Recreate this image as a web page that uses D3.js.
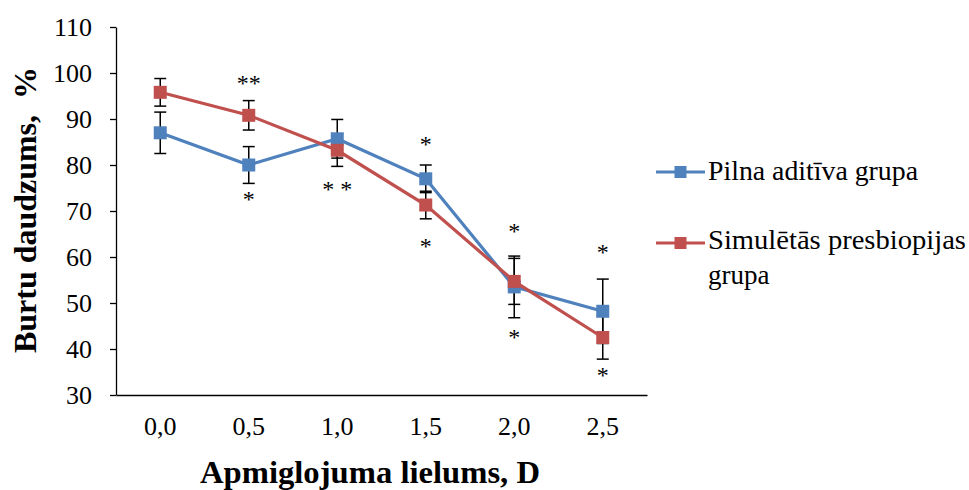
<!DOCTYPE html>
<html>
<head>
<script src="https://d3js.org/d3.v7.min.js"></script>
<style>
  body { margin: 0; background: #fff; }
  svg text { font-family: "Times New Roman", "Liberation Serif", "DejaVu Serif", serif; fill: #000; }
  .axis path, .axis line { stroke: #000; stroke-width: 1.3px; }
  .axis .tick text { font-size: 26px; }
  .title { font-size: 32px; font-weight: bold; }
  .star { font-size: 24px; }
  .legend text { font-size: 27px; }
</style>
</head>
<body>
<svg width="969" height="490"></svg>
<script>
var categories = ["0,0", "0,5", "1,0", "1,5", "2,0", "2,5"];
var blueValues = [87.0, 80.0, 85.7, 77.0, 53.5, 48.2];
var blueErrors = [4.5, 4.0, 4.2, 3.0, 6.7, 7.0];
var redValues = [95.8, 90.8, 83.2, 71.3, 54.7, 42.5];
var redErrors = [3.0, 3.2, 3.5, 3.0, 5.0, 4.7];
var yTicks = [30, 40, 50, 60, 70, 80, 90, 100, 110];
var seriesNames = ["Pilna aditīva grupa", "Simulētās presbiopijas grupa"];

// significance marks: category, value position, label
var starCats = ["0,5", "0,5", "1,0", "1,5", "1,5", "2,0", "2,0", "2,5", "2,5"];
var starVals = [98.3, 73.0, 75.2, 85.1, 62.8, 66.2, 43.0, 61.5, 34.8];
var starText = ["**", "*", "* *", "*", "*", "*", "*", "*", "*"];

var svg = d3.select("svg");
var mLeft = 116, mRight = 647, mTop = 27, mBottom = 395;

var x = d3.scaleBand().domain(categories).range([mLeft, mRight]);
var y = d3.scaleLinear().domain([30, 110]).range([mBottom, mTop]);

// axes
svg.append("g").attr("class", "axis")
    .attr("transform", "translate(" + mLeft + ",0)")
    .call(d3.axisLeft(y).tickValues(yTicks).tickSize(6).tickSizeOuter(0).tickPadding(18))
    .call(function(g) { g.attr("font-family", null).selectAll(".tick text").attr("dy", "0.34em"); });

svg.append("g").attr("class", "axis")
    .attr("transform", "translate(0," + mBottom + ")")
    .call(d3.axisBottom(x).tickSize(0).tickSizeOuter(0).tickPadding(22))
    .call(function(g) { g.attr("font-family", null).selectAll(".tick text").attr("dy", "0.71em"); });

svg.append("text").attr("class", "title")
    .attr("x", 370).attr("y", 483)
    .attr("text-anchor", "middle")
    .attr("textLength", 340).attr("lengthAdjust", "spacingAndGlyphs")
    .text("Apmiglojuma lielums, D");

svg.append("text").attr("class", "title")
    .attr("transform", "translate(36,210) rotate(-90)")
    .attr("text-anchor", "middle")
    .attr("textLength", 286).attr("lengthAdjust", "spacingAndGlyphs")
    .attr("xml:space", "preserve")
    .text("Burtu daudzums,  %");

var series = [
    { name: seriesNames[0], values: blueValues, errors: blueErrors, color: "#4f81bd" },
    { name: seriesNames[1], values: redValues, errors: redErrors, color: "#c0504d" }
];

var cx = function(i) { return x(categories[i]) + x.bandwidth() / 2; };

// error bars
series.forEach(function(s) {
    var g = svg.append("g");
    s.values.forEach(function(v, i) {
        var xx = cx(i), cap = 6;
        var y1 = y(v + s.errors[i]), y2 = y(v - s.errors[i]);
        g.append("line").attr("x1", xx).attr("x2", xx).attr("y1", y1).attr("y2", y2)
            .attr("stroke", "#000").attr("stroke-width", 1.5);
        [y1, y2].forEach(function(yy) {
            g.append("line").attr("x1", xx - cap).attr("x2", xx + cap).attr("y1", yy).attr("y2", yy)
                .attr("stroke", "#000").attr("stroke-width", 1.5);
        });
    });
});

// lines and markers
var line = d3.line().x(function(d, i) { return cx(i); }).y(function(d) { return y(d); });
series.forEach(function(s) {
    svg.append("path").datum(s.values)
        .attr("d", line)
        .attr("fill", "none")
        .attr("stroke", s.color)
        .attr("stroke-width", 3.2);
    svg.append("g").selectAll("rect").data(s.values).enter().append("rect")
        .attr("x", function(d, i) { return cx(i) - 6.5; })
        .attr("y", function(d) { return y(d) - 6.5; })
        .attr("width", 13).attr("height", 13)
        .attr("fill", s.color);
});

// stars
svg.append("g").selectAll("text").data(starText).enter().append("text")
    .attr("class", "star")
    .attr("x", function(d, i) { return x(starCats[i]) + x.bandwidth() / 2; })
    .attr("y", function(d, i) { return y(starVals[i]); })
    .attr("dy", "0.42em")
    .attr("text-anchor", "middle")
    .attr("xml:space", "preserve")
    .text(function(d) { return d; });

// legend
var legend = svg.append("g").attr("class", "legend");
var legendY = [172, 243];
series.forEach(function(s, i) {
    var ly = legendY[i];
    legend.append("line").attr("x1", 656).attr("x2", 705).attr("y1", ly).attr("y2", ly)
        .attr("stroke", s.color).attr("stroke-width", 3.2);
    legend.append("rect").attr("x", 674.5).attr("y", ly - 6).attr("width", 12).attr("height", 12)
        .attr("fill", s.color);
});
legend.append("text").attr("x", 708).attr("y", 180)
    .attr("textLength", 210).attr("lengthAdjust", "spacingAndGlyphs")
    .text(seriesNames[0]);
legend.append("text").attr("x", 708).attr("y", 249)
    .attr("textLength", 258).attr("lengthAdjust", "spacingAndGlyphs")
    .text("Simulētās presbiopijas");
legend.append("text").attr("x", 708).attr("y", 284).text("grupa");
</script>
</body>
</html>
